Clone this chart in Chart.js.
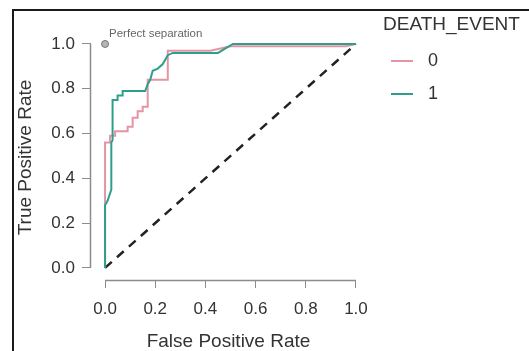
<!DOCTYPE html>
<html>
<head>
<meta charset="utf-8">
<script src="https://cdn.jsdelivr.net/npm/chart.js@4"></script>
<style>
  html, body { margin: 0; padding: 0; background: #fff; }
  #wrap { position: relative; width: 529px; height: 351px; overflow: hidden; }
  #frame { position: absolute; left: 12px; top: 9px; width: 700px; height: 500px; border: 2px solid #1a1a1a; }
  canvas { position: absolute; left: 0; top: 0; }
</style>
</head>
<body>
<div id="wrap">
  <div id="frame"></div>
  <canvas id="roc" width="529" height="351"></canvas>
</div>
<script>
// ROC curves per DEATH_EVENT class

const legendTitle = 'DEATH_EVENT';
const classLabels = ['0', '1'];

// class 0 (pink)
const fpr0 = [0, 0, 0.02, 0.02, 0.04, 0.04, 0.09, 0.09, 0.11, 0.11, 0.13, 0.13, 0.15, 0.15, 0.17, 0.17, 0.25, 0.25, 0.42, 0.46, 0.50, 0.96, 1.0];
const tpr0 = [0, 0.56, 0.56, 0.59, 0.59, 0.61, 0.61, 0.63, 0.63, 0.67, 0.67, 0.70, 0.70, 0.72, 0.72, 0.84, 0.84, 0.97, 0.97, 0.98, 0.99, 0.99, 1.0];

// class 1 (teal)
const fpr1 = [0, 0, 0.01, 0.025, 0.025, 0.03, 0.03, 0.05, 0.05, 0.07, 0.07, 0.16, 0.17, 0.18, 0.19, 0.21, 0.23, 0.25, 0.27, 0.45, 0.48, 0.51, 1.0];
const tpr1 = [0, 0.28, 0.30, 0.35, 0.56, 0.57, 0.75, 0.75, 0.77, 0.77, 0.79, 0.79, 0.82, 0.84, 0.88, 0.89, 0.91, 0.95, 0.96, 0.96, 0.98, 1.0, 1.0];

// chance line
const chanceFpr = [0, 1];
const chanceTpr = [0, 1];

const perfectFpr = [0];
const perfectTpr = [1];
const perfectLabel = 'Perfect separation';

const tickValues = [0, 0.2, 0.4, 0.6, 0.8, 1.0];

const pink = '#e495a5';
const teal = '#2f9f8b';
const axisColor = '#8c8c8c';
const textColor = '#333';

const toPoints = (xs, ys) => xs.map((v, i) => ({ x: v, y: ys[i] }));

Chart.defaults.font.family = "'Liberation Sans', Arial, sans-serif";
Chart.defaults.color = textColor;

const decorPlugin = {
    id: 'decor',
    afterDraw(chart) {
        const ctx = chart.ctx;
        const area = chart.chartArea;
        const x = chart.scales.x;
        const y = chart.scales.y;
        const lo = tickValues[0];
        const hi = tickValues[tickValues.length - 1];
        ctx.save();

        // axis lines only span the tick range, like R base graphics
        ctx.setLineDash([]);
        ctx.strokeStyle = axisColor;
        ctx.lineWidth = 1.5;
        ctx.beginPath();
        ctx.moveTo(area.left - 0.5, y.getPixelForValue(lo));
        ctx.lineTo(area.left - 0.5, y.getPixelForValue(hi));
        ctx.moveTo(x.getPixelForValue(lo), area.bottom + 0.5);
        ctx.lineTo(x.getPixelForValue(hi), area.bottom + 0.5);
        ctx.stroke();

        // perfect separation label
        ctx.fillStyle = '#666';
        ctx.font = "11.5px 'Liberation Sans', Arial, sans-serif";
        ctx.textBaseline = 'middle';
        ctx.textAlign = 'left';
        ctx.fillText(perfectLabel, x.getPixelForValue(perfectFpr[0]) + 4, y.getPixelForValue(perfectTpr[0]) - 10);

        // legend
        ctx.fillStyle = textColor;
        ctx.font = "19px 'Liberation Sans', Arial, sans-serif";
        ctx.fillText(legendTitle, 383, 25);
        const colors = [pink, teal];
        classLabels.forEach((lab, i) => {
            const ly = 61 + i * 33;
            ctx.strokeStyle = colors[i];
            ctx.lineWidth = 2;
            ctx.beginPath();
            ctx.moveTo(391, ly);
            ctx.lineTo(413, ly);
            ctx.stroke();
            ctx.fillStyle = textColor;
            ctx.font = "18px 'Liberation Sans', Arial, sans-serif";
            ctx.fillText(lab, 428, ly);
        });
        ctx.restore();
    }
};

const axisTicks = {
    afterBuildTicks(scale) {
        scale.ticks = tickValues.map(v => ({ value: v }));
    }
};

new Chart(document.getElementById('roc'), {
    type: 'scatter',
    data: {
        datasets: [
            {
                label: classLabels[1],
                data: toPoints(fpr1, tpr1),
                showLine: true,
                borderColor: teal,
                borderWidth: 2,
                pointRadius: 0,
                tension: 0
            },
            {
                label: classLabels[0],
                data: toPoints(fpr0, tpr0),
                showLine: true,
                borderColor: pink,
                borderWidth: 2,
                pointRadius: 0,
                tension: 0
            },
            {
                label: 'chance',
                data: toPoints(chanceFpr, chanceTpr),
                showLine: true,
                borderColor: '#222',
                borderWidth: 2.5,
                borderDash: [9, 7],
                pointRadius: 0
            },
            {
                label: perfectLabel,
                data: toPoints(perfectFpr, perfectTpr),
                pointRadius: 3.5,
                pointBackgroundColor: '#b5b5b5',
                pointBorderColor: '#777',
                pointBorderWidth: 1
            }
        ]
    },
    options: {
        responsive: false,
        animation: false,
        layout: { padding: { left: 0, right: 163, top: 35, bottom: 0 } },
        plugins: {
            legend: { display: false },
            tooltip: { enabled: false }
        },
        scales: {
            x: {
                type: 'linear',
                min: -0.056,
                max: 1.04,
                ...axisTicks,
                afterFit(scale) { scale.height = 71; },
                border: { display: false },
                grid: { drawOnChartArea: false, drawTicks: true, tickLength: 8, color: axisColor },
                ticks: {
                    padding: 11,
                    font: { size: 17 },
                    color: textColor,
                    callback: v => v.toFixed(1)
                },
                title: {
                    display: true,
                    text: 'False Positive Rate',
                    font: { size: 19 },
                    color: textColor,
                    padding: { top: 0, bottom: -2 }
                }
            },
            y: {
                type: 'linear',
                min: -0.054,
                max: 1.04,
                ...axisTicks,
                afterFit(scale) { scale.width = 91; },
                border: { display: false },
                grid: { drawOnChartArea: false, drawTicks: true, tickLength: 9, color: axisColor },
                ticks: {
                    padding: 7,
                    font: { size: 17 },
                    color: textColor,
                    callback: v => v.toFixed(1)
                },
                title: {
                    display: true,
                    text: 'True Positive Rate',
                    font: { size: 19 },
                    color: textColor,
                    padding: { top: 14, bottom: 0 }
                }
            }
        }
    },
    plugins: [decorPlugin]
});
</script>
</body>
</html>
